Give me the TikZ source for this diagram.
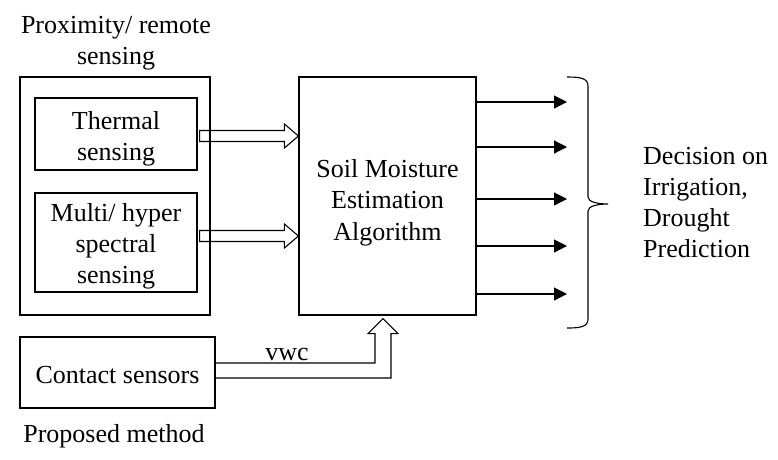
\documentclass[tikz,border=0pt]{standalone}
\usepackage{fontspec}
\setmainfont{Liberation Serif}
\usetikzlibrary{arrows.meta,calc}
\begin{document}
\begin{tikzpicture}[x=1pt,y=-1pt,
  box/.style={draw, line width=1.2pt, inner sep=0pt},
  lbl/.style={inner sep=0pt, align=center, font=\fontsize{26}{31}\selectfont},
  hollow/.style={draw, line width=1.1pt, line join=miter},
  outarr/.style={draw, line width=1.2pt, -{Triangle[length=13pt,width=13pt]}},
]
\useasboundingbox (0,0) rectangle (778,459);

\node[lbl] (title) at (116,43.5) {Proximity/ remote\\sensing};
\node[box, minimum width=190, minimum height=238] (outer) at (115,196) {};
\node[box, minimum width=162, minimum height=72] (thermal) at (116,134) {};
\node[lbl] (thermaltext) at ($(thermal)+(0,5)$) {Thermal\\sensing};
\node[box, minimum width=162, minimum height=99] (multi) at (116,242.5) {};
\node[lbl] (multitext) at ($(multi)+(0,4)$) {Multi/ hyper\\spectral\\sensing};
\node[box, minimum width=177, minimum height=238] (algo) at (387.5,196) {};
\node[lbl, font=\fontsize{26}{31.5}\selectfont] (algotext) at ($(algo)+(0,6.5)$) {Soil Moisture\\Estimation\\Algorithm};
\node[box, minimum width=195, minimum height=71] (contact) at (117.5,372.5) {};
\node[lbl] (contacttext) at ($(contact)+(0,3)$) {Contact sensors};
\node[lbl] (proposed) at (114,436) {Proposed method};
\node[lbl] (vwc) at (287,354.5) {vwc};

% hollow arrows into the algorithm box
\coordinate (h1) at ($(thermal.east)+(2,2)$);
\coordinate (h2) at ($(multi.east)+(2,-6.5)$);
\foreach \s in {h1,h2}{
  \draw[hollow] let \p1=(\s), \p2=(algo.west |- \s) in
    (\x1,\y1+5.5pt) -- (\x2-14pt,\y1+5.5pt) -- (\x2-14pt,\y1+12pt) -- (\x2,\y1)
    -- (\x2-14pt,\y1-12pt) -- (\x2-14pt,\y1-5.5pt) -- (\x1,\y1-5.5pt) -- cycle;
}

% elbow hollow arrow from contact sensors
\coordinate (cs) at ($(contact.east)+(0,-2)$);
\coordinate (ce) at ($(algo.south)+(-4.5,0)$);
\draw[hollow] let \p1=(cs), \p2=(ce) in
  (\x1,\y1+7.5pt) -- (\x2-8pt,\y1+7.5pt) -- (\x2-8pt,\y2-18pt) -- (\x2-15pt,\y2-18pt)
  -- (\x2,\y2-3pt) -- (\x2+15pt,\y2-18pt) -- (\x2+8pt,\y2-18pt) -- (\x2+8pt,\y1-7.5pt)
  -- (\x1,\y1-7.5pt);

% output arrows
\foreach \n/\y in {o1/102,o2/147,o3/199,o4/246,o5/294}{
  \coordinate (\n) at (567,\y);
  \draw[outarr] (algo.east |- \n) -- (\n);
}

% brace
\coordinate (bt) at (567,77);
\coordinate (bm) at (608,204);
\coordinate (bb) at (567,328);
\draw[line width=1.1pt] (bt) .. controls (580,77) and (588,78) .. (588,86) -- (588,197)
  .. controls (588,202) and (598,204) .. (bm)
  .. controls (598,204) and (588,206) .. (588,211) -- (588,319)
  .. controls (588,327) and (580,328) .. (bb);

\node[lbl, align=left, anchor=west] (decision) at (643,203) {Decision on\\Irrigation,\\Drought\\Prediction};
\end{tikzpicture}
\end{document}
